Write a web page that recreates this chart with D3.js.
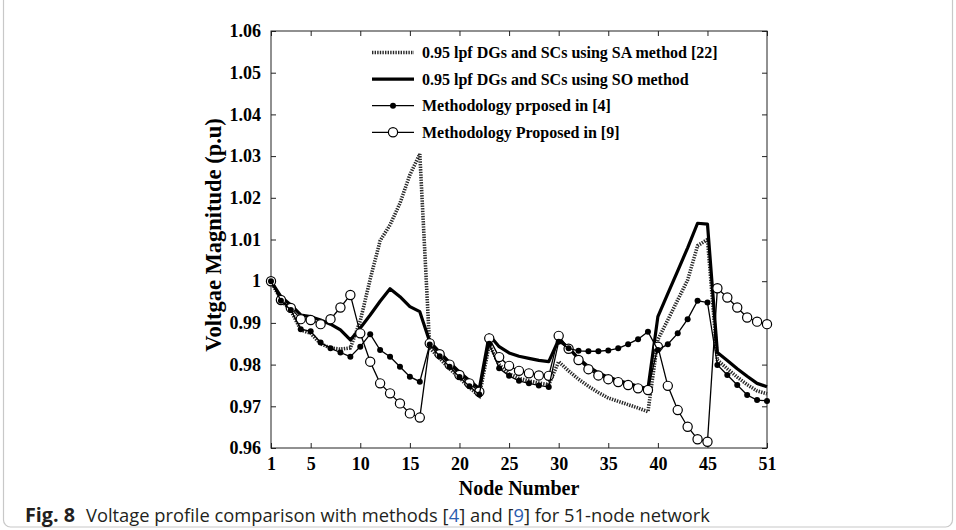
<!DOCTYPE html>
<html lang="en">
<head>
    <meta charset="UTF-8">
    <title>Voltage profile comparison</title>
    <style>
        body {
            margin: 0;
            background: #fff;
        }
        svg {
            display: block;
        }
        .serif {
            font-family: "Liberation Serif", "Times New Roman", serif;
            font-weight: bold;
        }
        .tick text {
            font-family: "Liberation Serif", "Times New Roman", serif;
            font-weight: bold;
            font-size: 18px;
            fill: #000;
        }
    </style>
    <script src="https://d3js.org/d3.v7.min.js"></script>
</head>
<body>
    <svg id="chart" width="956" height="530"></svg>
    <script>
        // node numbers 1..51
        const nodes = d3.range(1, 52);

        const xTicks = [1, 5, 10, 15, 20, 25, 30, 35, 40, 45, 51];
        const yTicks = [0.96, 0.97, 0.98, 0.99, 1.0, 1.01, 1.02, 1.03, 1.04, 1.05, 1.06];

        const seriesNames = [
            "0.95 lpf DGs and SCs using SA method [22]",
            "0.95 lpf DGs and SCs using SO method",
            "Methodology prposed in [4]",
            "Methodology Proposed in [9]"
        ];

        // caption pieces; the reference numbers are blue
        const captionParts = [
            { text: "Voltage profile comparison with methods [", link: false },
            { text: "4", link: true },
            { text: "] and [", link: false },
            { text: "9", link: true },
            { text: "] for 51-node network", link: false }
        ];

        // 0.95 lpf DGs and SCs, SA method [22]
        const saValues = [
            1.0000, 0.9955, 0.9930, 0.9883, 0.9875, 0.9850, 0.9840, 0.9837, 0.9840, 0.9905,
            1.0005, 1.0097, 1.0135, 1.0187, 1.0255, 1.0305, 0.9840, 0.9815, 0.9790, 0.9768,
            0.9745, 0.9725, 0.9848, 0.9800, 0.9778, 0.9767, 0.9761, 0.9756, 0.9752, 0.9807,
            0.9785, 0.9765, 0.9748, 0.9733, 0.9720, 0.9712, 0.9704, 0.9696, 0.9687, 0.9860,
            0.9907, 0.9955, 1.0003, 1.0085, 1.0100, 0.9811, 0.9790, 0.9770, 0.9752, 0.9737,
            0.9730
        ];

        // 0.95 lpf DGs and SCs, SO method
        const soValues = [
            1.0000, 0.9963, 0.9943, 0.9919, 0.9915, 0.9907, 0.9897, 0.9883, 0.9859, 0.9888,
            0.9919, 0.9952, 0.9982, 0.9963, 0.9939, 0.9927, 0.9855, 0.9830, 0.9805, 0.9782,
            0.9762, 0.9742, 0.9871, 0.9843, 0.9828, 0.9820, 0.9815, 0.9810, 0.9807, 0.9860,
            0.9840, 0.9815, 0.9795, 0.9780, 0.9770, 0.9762, 0.9755, 0.9748, 0.9742, 0.9915,
            0.9970, 1.0025, 1.0080, 1.0139, 1.0137, 0.9829, 0.9810, 0.9790, 0.9772, 0.9755,
            0.9747
        ];

        // Methodology proposed in [4]
        const ref4Values = [
            1.0000, 0.9953, 0.9931, 0.9885, 0.9880, 0.9853, 0.9839, 0.9829, 0.9819, 0.9843,
            0.9873, 0.9835, 0.9819, 0.9795, 0.9771, 0.9759, 0.9848, 0.9820, 0.9795, 0.9770,
            0.9748, 0.9728, 0.9850, 0.9791, 0.9773, 0.9761, 0.9755, 0.9750, 0.9746, 0.9855,
            0.9839, 0.9833, 0.9832, 0.9832, 0.9834, 0.9839, 0.9849, 0.9861, 0.9879, 0.9835,
            0.9849, 0.9875, 0.9909, 0.9953, 0.9949, 0.9799, 0.9775, 0.9751, 0.9727, 0.9715,
            0.9713
        ];

        // Methodology proposed in [9]
        const ref9Values = [
            1.0000, 0.9955, 0.9936, 0.9909, 0.9907, 0.9897, 0.9909, 0.9937, 0.9967, 0.9875,
            0.9807, 0.9755, 0.9731, 0.9707, 0.9683, 0.9673, 0.9851, 0.9825, 0.9800, 0.9775,
            0.9755, 0.9735, 0.9863, 0.9818, 0.9797, 0.9785, 0.9779, 0.9774, 0.9773, 0.9869,
            0.9838, 0.9811, 0.9789, 0.9774, 0.9765, 0.9758, 0.9751, 0.9743, 0.9739, 0.9843,
            0.9749, 0.9691, 0.9651, 0.9621, 0.9615, 0.9983, 0.9961, 0.9937, 0.9913, 0.9903,
            0.9897
        ];

        const svg = d3.select("#chart");
        const margin = { top: 31, right: 189, bottom: 82, left: 271 };
        const W = 956, H = 530;
        const width = W - margin.left - margin.right;
        const height = H - margin.top - margin.bottom;

        // outer figure frame
        svg.append("rect")
            .attr("x", 3.5).attr("y", -10)
            .attr("width", 949).attr("height", 537)
            .attr("rx", 7)
            .attr("fill", "none")
            .attr("stroke", "#c8c8c8")
            .attr("stroke-width", 1.2);

        const g = svg.append("g")
            .attr("transform", `translate(${margin.left},${margin.top})`);

        const x = d3.scaleLinear().domain([1, 51]).range([0, width]);
        const y = d3.scaleLinear().domain([0.96, 1.06]).range([height, 0]);

        const yFmt = d => d === 1 ? "1" : d3.format(".2f")(d);

        // axes with ticks pointing inward on every side
        g.append("g")
            .attr("transform", `translate(0,${height})`)
            .call(d3.axisBottom(x).tickValues(xTicks).tickSize(-5).tickPadding(9).tickFormat(d3.format("d")))
            .call(a => a.select(".domain").remove());
        g.append("g")
            .call(d3.axisTop(x).tickValues(xTicks).tickSize(-5).tickFormat(""))
            .call(a => a.select(".domain").remove());
        g.append("g")
            .call(d3.axisLeft(y).tickValues(yTicks).tickSize(-5).tickPadding(10).tickFormat(yFmt))
            .call(a => a.select(".domain").remove());
        g.append("g")
            .attr("transform", `translate(${width},0)`)
            .call(d3.axisRight(y).tickValues(yTicks).tickSize(-5).tickFormat(""))
            .call(a => a.select(".domain").remove());

        g.selectAll(".tick line").attr("stroke", "#222");

        g.append("rect")
            .attr("width", width).attr("height", height)
            .attr("fill", "none")
            .attr("stroke", "#222")
            .attr("stroke-width", 1);

        // axis titles
        svg.append("text")
            .attr("class", "serif")
            .attr("x", margin.left + width / 2)
            .attr("y", 494.5)
            .attr("text-anchor", "middle")
            .style("font-size", "20px")
            .text("Node Number");

        svg.append("text")
            .attr("class", "serif")
            .attr("transform", "translate(221,235) rotate(-90)")
            .attr("text-anchor", "middle")
            .style("font-size", "22.5px")
            .text("Voltgae Magnitude (p.u)");

        const line = d3.line()
            .x((d, i) => x(nodes[i]))
            .y(d => y(d));

        // SA method: thick dotted
        g.append("path")
            .datum(saValues)
            .attr("d", line)
            .attr("fill", "none")
            .attr("stroke", "#2a2a2a")
            .attr("stroke-width", 3.6)
            .attr("stroke-dasharray", "1.4,1.2");

        // SO method: thick solid
        g.append("path")
            .datum(soValues)
            .attr("d", line)
            .attr("fill", "none")
            .attr("stroke", "#000")
            .attr("stroke-width", 3.2)
            .attr("stroke-linejoin", "round");

        // [9]: thin line, open circles
        g.append("path")
            .datum(ref9Values)
            .attr("d", line)
            .attr("fill", "none")
            .attr("stroke", "#000")
            .attr("stroke-width", 1.3);
        g.selectAll(".dot9")
            .data(ref9Values)
            .enter().append("circle")
            .attr("class", "dot9")
            .attr("cx", (d, i) => x(nodes[i]))
            .attr("cy", d => y(d))
            .attr("r", 4.6)
            .attr("fill", "#fff")
            .attr("stroke", "#000")
            .attr("stroke-width", 1.2);

        // [4]: thin line, filled dots
        g.append("path")
            .datum(ref4Values)
            .attr("d", line)
            .attr("fill", "none")
            .attr("stroke", "#000")
            .attr("stroke-width", 1.3);
        g.selectAll(".dot4")
            .data(ref4Values)
            .enter().append("circle")
            .attr("class", "dot4")
            .attr("cx", (d, i) => x(nodes[i]))
            .attr("cy", d => y(d))
            .attr("r", 3)
            .attr("fill", "#000");

        // legend
        const legend = svg.append("g").attr("transform", "translate(372,52.5)");
        const legendItems = legend.selectAll(".legend-item")
            .data(seriesNames)
            .enter().append("g")
            .attr("class", "legend-item")
            .attr("transform", (d, i) => `translate(0,${i * 26.6})`);

        legendItems.append("line")
            .attr("x1", 0).attr("x2", 42)
            .attr("stroke", (d, i) => i === 0 ? "#2a2a2a" : "#000")
            .attr("stroke-width", (d, i) => i === 0 ? 3.6 : i === 1 ? 3.2 : 1.3)
            .attr("stroke-dasharray", (d, i) => i === 0 ? "1.4,1.2" : null);

        legendItems.filter((d, i) => i === 2).append("circle")
            .attr("cx", 21).attr("r", 3).attr("fill", "#000");
        legendItems.filter((d, i) => i === 3).append("circle")
            .attr("cx", 21).attr("r", 4.6)
            .attr("fill", "#fff").attr("stroke", "#000").attr("stroke-width", 1.2);

        legendItems.append("text")
            .attr("class", "serif")
            .attr("x", 50)
            .attr("y", 5.5)
            .style("font-size", "16px")
            .text(d => d);

        // caption
        const capStyle = s => s
            .style("font-family", "'Open Sans', 'Noto Sans', sans-serif")
            .style("font-size", "19px")
            .attr("fill", "#231f20");

        svg.append("text")
            .call(capStyle)
            .attr("x", 25).attr("y", 522)
            .attr("textLength", 50)
            .attr("lengthAdjust", "spacingAndGlyphs")
            .style("font-weight", "bold")
            .text("Fig. 8");

        // caption body: pieces laid out one after another, then squeezed to width
        const capBody = svg.append("g");
        let cursor = 0;
        captionParts.forEach(p => {
            const t = capBody.append("text")
                .call(capStyle)
                .attr("x", cursor)
                .attr("fill", p.link ? "#2a5db0" : "#231f20")
                .style("white-space", "pre")
                .text(p.text);
            cursor += t.node().getComputedTextLength();
        });
        const squeeze = 624 / cursor;
        capBody.attr("transform", `translate(86,522) scale(${squeeze},1)`);
    </script>
</body>
</html>
